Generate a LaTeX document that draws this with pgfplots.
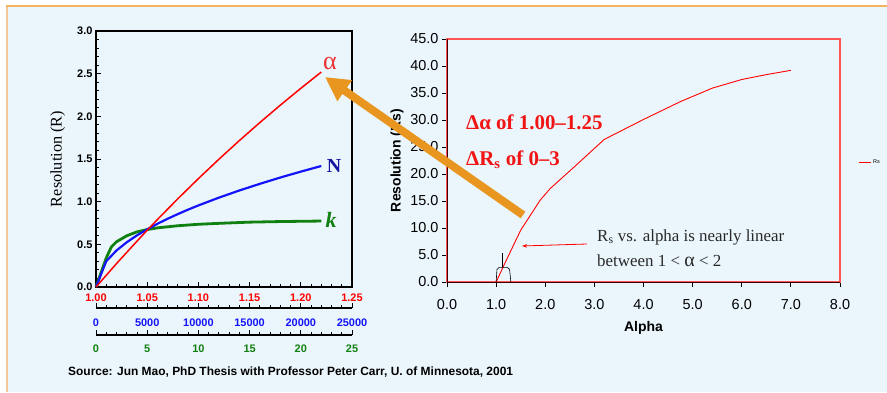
\documentclass[border=0pt]{standalone}
\usepackage{fontspec}
\setmainfont{Liberation Serif}
\setsansfont{Liberation Sans}
\usepackage{pgfplots}
\pgfplotsset{compat=1.18}
\usetikzlibrary{arrows.meta}
\definecolor{bgblue}{RGB}{235,246,252}
\definecolor{framet}{RGB}{246,178,92}
\definecolor{framel}{RGB}{245,200,150}
\definecolor{arrorange}{RGB}{232,150,32}
\definecolor{alred}{RGB}{235,50,50}
\definecolor{nnavy}{RGB}{20,20,160}
\definecolor{nblue}{RGB}{20,20,250}
\definecolor{kgreen}{RGB}{16,128,16}
\definecolor{rsred}{RGB}{255,85,85}
\definecolor{annred}{RGB}{240,20,20}
\definecolor{darktext}{RGB}{40,40,40}
\begin{document}
\begin{tikzpicture}[x=1bp,y=1bp]
\useasboundingbox (0,0) rectangle (887,392);
\fill[white] (0,0) rectangle (887,392);
\fill[bgblue] (7,0) rectangle (887,386);
\draw[framel, line width=2bp] (7,0) -- (7,386);
\draw[framet, line width=1.5bp] (6,386) -- (887,386);

\pgfplotsset{leftbase/.style={at={(96bp,105bp)}, anchor=south west, scale only axis, width=256bp, height=256bp, ymin=0, ymax=3, clip=false},
  scalebase/.style={anchor=south west, scale only axis, width=256bp, height=1bp, ymin=0, ymax=1,
    axis y line=none, axis x line*=bottom, x axis line style={-, line width=1.2bp}, ytick=\empty,
    tick align=inside, major tick length=5bp, minor tick length=3bp, minor x tick num=4,
    tick style={line width=0.9bp, black}, scaled x ticks=false,
    tick label style={font=\sffamily\bfseries\fontsize{11}{13}\selectfont}}}

% main left axis (frame + ticks)
\begin{axis}[leftbase, xmin=1, xmax=1.25,
  xtick={1,1.05,1.1,1.15,1.2,1.25}, ytick={0,0.5,1,1.5,2,2.5,3},
  minor x tick num=4, minor y tick num=4,
  xtick pos=left, ytick pos=left, tick align=inside,
  major tick length=5bp, minor tick length=3bp,
  axis line style={line width=1.2bp}, tick style={line width=0.9bp, black},
  tick label style={font=\sffamily\bfseries\fontsize{11}{13}\selectfont},
  x tick label style={text=red, yshift=-3.5bp, /pgf/number format/fixed, /pgf/number format/fixed zerofill, /pgf/number format/precision=2, /pgf/number format/assume math mode=true},
  y tick label style={/pgf/number format/fixed, /pgf/number format/fixed zerofill, /pgf/number format/precision=1, /pgf/number format/assume math mode=true},
  ylabel={Resolution (R)},
  ylabel style={at={(axis description cs:-0.15,0.5)}, anchor=center, font=\fontsize{16.3}{18}\selectfont}]
\end{axis}

% k overlay
\begin{axis}[leftbase, hide axis, xmin=0, xmax=25]
\addplot[kgreen, line width=2.8bp, line join=round] coordinates {
(0,0) (0.5,0.17) (1,0.34) (1.5,0.47) (2,0.53) (3,0.60) (4,0.646) (5,0.673) (6,0.693)
(8,0.718) (10,0.735) (12,0.746) (15,0.760) (18,0.767) (22,0.773)};
\end{axis}

% N overlay
\begin{axis}[leftbase, hide axis, xmin=0, xmax=25000]
\addplot[nblue, line width=2.2bp, line join=round] coordinates {
(0,0) (1000,0.302) (2000,0.428) (3000,0.524) (4000,0.605) (5000,0.676) (6000,0.741)
(7000,0.800) (8000,0.855) (9000,0.907) (10000,0.956) (12000,1.047) (14000,1.131)
(16000,1.209) (18000,1.283) (20000,1.352) (22000,1.418)};
\end{axis}

% alpha overlay
\begin{axis}[leftbase, hide axis, xmin=1, xmax=1.25]
\addplot[red, line width=1.5bp] coordinates {
(1.00,0) (1.02,0.274) (1.04,0.537) (1.05,0.665) (1.06,0.791) (1.08,1.035) (1.10,1.270)
(1.12,1.497) (1.14,1.716) (1.16,1.927) (1.18,2.131) (1.20,2.328) (1.22,2.519)};
\end{axis}

% N scale
\begin{axis}[scalebase, at={(96bp,84bp)}, xmin=0, xmax=25000,
  xtick={0,5000,10000,15000,20000,25000},
  x tick label style={text=nblue, yshift=-7bp, /pgf/number format/1000 sep={}, /pgf/number format/assume math mode=true}]
\end{axis}
% k scale
\begin{axis}[scalebase, at={(96bp,57bp)}, xmin=0, xmax=25,
  xtick={0,5,10,15,20,25},
  x tick label style={text=kgreen, yshift=-6bp, /pgf/number format/assume math mode=true}]
\end{axis}

\node[text=alred, font=\fontsize{26}{28}\selectfont, inner sep=0] at (330,328) {α};
\node[text=nnavy, font=\bfseries\fontsize{20}{22}\selectfont, inner sep=0] at (334,226) {N};
\node[text=kgreen, font=\bfseries\itshape\fontsize{22}{24}\selectfont, inner sep=0] at (331,172) {k};

% right axis
\begin{axis}[at={(447bp,110bp)}, anchor=south west, scale only axis, width=393bp, height=243bp,
  xmin=0, xmax=8, ymin=0, ymax=45, clip=false,
  xtick={0,1,2,3,4,5,6,7,8}, ytick={0,5,10,15,20,25,30,35,40,45},
  tick align=outside, xtick pos=left, ytick pos=left, major tick length=5bp,
  axis line style={rsred, line width=1.2bp}, tick style={black, line width=0.8bp},
  tick label style={font=\sffamily\fontsize{14.5}{16}\selectfont},
  x tick label style={yshift=-9bp, /pgf/number format/fixed, /pgf/number format/fixed zerofill, /pgf/number format/precision=1, /pgf/number format/assume math mode=true},
  y tick label style={/pgf/number format/fixed, /pgf/number format/fixed zerofill, /pgf/number format/precision=1, /pgf/number format/assume math mode=true},
  xlabel={Alpha}, ylabel={Resolution (Rs)},
  label style={font=\sffamily\bfseries\fontsize{14}{16}\selectfont},
  xlabel style={at={(axis description cs:0.5,-0.189)}, anchor=center},
  ylabel style={at={(axis description cs:-0.127,0.5)}, anchor=center},
  legend style={at={(axis description cs:1.046,0.494)}, anchor=west, draw=none, fill=none,
    font=\sffamily\fontsize{5.5}{6}\selectfont, inner sep=0pt},
  legend image code/.code={\draw[#1] (0bp,0bp) -- (12bp,0bp);}]
\addplot[red, line width=0.9bp, line join=round] coordinates {
(1.0,0) (1.2,3.9) (1.5,9.6) (1.9,15.2) (2.1,17.3) (2.6,21.4) (3.2,26.4) (4.0,30.1)
(4.75,33.4) (5.4,35.9) (6.0,37.5) (6.5,38.4) (7.0,39.2)};
\addlegendentry{Rs}
\draw[black!75!red, line width=1bp] (rel axis cs:0,1) -- (rel axis cs:0,0) -- (rel axis cs:1,0);
\draw[black, line width=0.6bp, rounded corners=2bp] (axis cs:1.0,0) -- (axis cs:1.02,2.7) -- (axis cs:1.27,2.7) -- (axis cs:1.30,0);
\draw[black, line width=0.6bp] (axis cs:1.13,2.7) -- (axis cs:1.13,5.4);
\end{axis}

\node[anchor=west, inner sep=0, text=annred, font=\bfseries\fontsize{21}{23}\selectfont] at (466,270) {Δα of 1.00--1.25};
\node[anchor=west, inner sep=0, text=annred, font=\bfseries\fontsize{21}{23}\selectfont] at (466,232) {ΔR\textsubscript{s} of 0--3};
\node[anchor=west, inner sep=0, text=darktext, font=\fontsize{17}{19}\selectfont] at (597,155) {R\textsubscript{s} vs. alpha is nearly linear};
\node[anchor=west, inner sep=0, text=darktext, font=\fontsize{17}{19}\selectfont] at (597,131) {between 1 < {\fontsize{20}{22}\selectfont α} < 2};
\draw[red, line width=0.8bp, -{Stealth[length=5bp,width=3.5bp]}] (587,148) -- (522,146);

\node[anchor=west, inner sep=0, font=\sffamily\bfseries\fontsize{12}{14}\selectfont] at (68,20) {Source: Jun Mao, PhD Thesis with Professor Peter Carr, U. of Minnesota, 2001};

\draw[arrorange, line width=8bp, -{Triangle[length=24bp,width=24bp]}] (523,177) -- (325,315);
\end{tikzpicture}
\end{document}
